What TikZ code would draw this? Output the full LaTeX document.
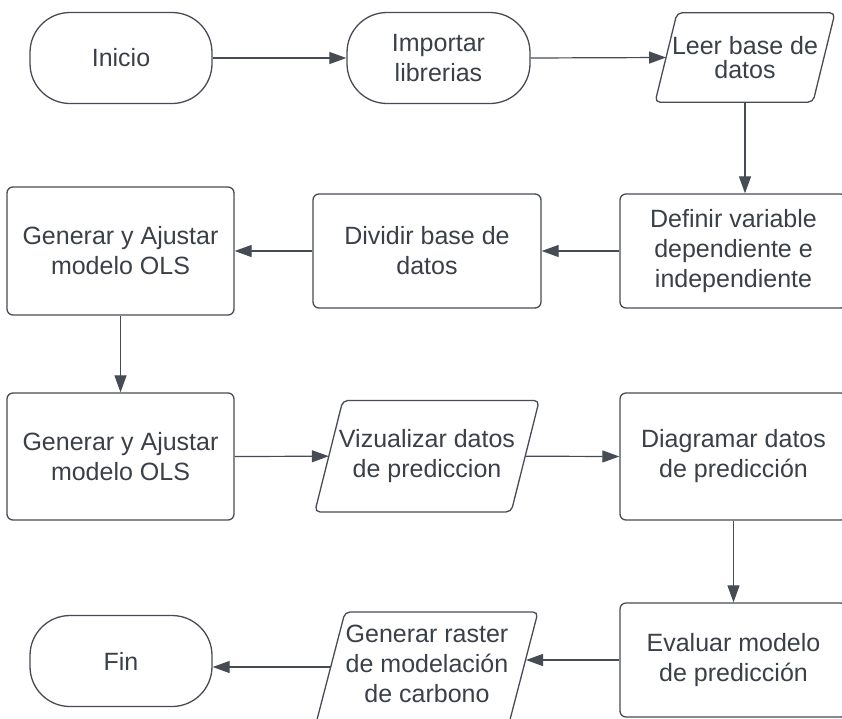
\documentclass[tikz,border=0pt]{standalone}
\usepackage{fontspec}
\setmainfont{Liberation Sans}
\usetikzlibrary{arrows.meta,calc}
\definecolor{txtc}{HTML}{3B4048}
\definecolor{linec}{HTML}{474C54}
\begin{document}
\begin{tikzpicture}[x=1pt,y=-1pt,
  every node/.style={font=\fontsize{25}{30}\selectfont, text=txtc, align=center, inner sep=0pt},
  shapeline/.style={draw=linec, line width=1.3pt},
  procbox/.style={shapeline, rounded corners=6pt, minimum width=227pt},
  termbox/.style={shapeline, rounded corners=40pt, minimum width=182pt, minimum height=91pt},
  iobox/.style={draw=none},
  paraline/.style={shapeline, rounded corners=5pt},
  flow/.style={draw=linec, line width=1.2pt, -{Triangle[length=17pt,width=12pt]}}
]
\fill[white] (0,0) rectangle (842,718);
\useasboundingbox (0,0) rectangle (842,718);

% row 1
\node[termbox] (inicio) at (121,58) {Inicio};
\node[termbox, minimum width=183pt] (imp) at (438.5,58) {Importar\\librerias};
\node[iobox, minimum width=157.5pt, minimum height=89pt,
      font=\fontsize{25}{24}\selectfont] (leer) at (745,57.5) {Leer base de\\datos};
\draw[paraline] ($(leer.north west)+(11pt,0pt)$) -- ($(leer.north east)+(11pt,0pt)$)
   -- ($(leer.south east)+(-11pt,0pt)$) -- ($(leer.south west)+(-11pt,0pt)$) -- cycle;

% row 2
\node[procbox, minimum height=128pt] (gen1) at (120.5,251) {Generar y Ajustar\\modelo OLS};
\node[procbox, minimum width=228pt, minimum height=114pt] (div) at (427,251) {Dividir base de\\datos};
\node[procbox, minimum height=114pt] (def) at (733.5,251) {Definir variable\\dependiente e\\independiente};

% row 3
\node[procbox, minimum height=127pt] (gen2) at (120.5,456.5) {Generar y Ajustar\\modelo OLS};
\node[iobox, minimum width=196pt, minimum height=111pt] (viz) at (427,456.2) {Vizualizar datos\\de prediccion};
\draw[paraline] ($(viz.north west)+(14pt,0pt)$) -- ($(viz.north east)+(14pt,0pt)$)
   -- ($(viz.south east)+(-14pt,0pt)$) -- ($(viz.south west)+(-14pt,0pt)$) -- cycle;
\node[procbox, minimum height=127pt] (diag) at (733.5,456.5) {Diagramar datos\\de predicción};

% row 4
\node[termbox] (fin) at (121,661) {Fin};
\node[iobox] (ras) at (427,664) {Generar raster\\de modelación\\de carbono};
\draw[paraline] (345,612) -- (538,612) -- (504.7,740) -- (311.7,740) -- cycle;
\coordinate (rasR) at (526,660);
\coordinate (rasL) at (330,667);
\node[procbox, minimum height=114pt] (eval) at (733.5,660) {Evaluar modelo\\de predicción};

% connectors
\draw[flow] (inicio.east) -- (imp.west);
\draw[flow] (imp.east) -- (leer.west);
\draw[flow] (leer.south) -- (leer.south |- def.north);
\draw[flow] (def.west) -- (div.east);
\draw[flow] (div.west) -- (gen1.east);
\draw[flow] (gen1.south) -- (gen2.north);
\draw[flow] (gen2.east) -- (viz.west);
\draw[flow] (viz.east) -- (diag.west);
\draw[flow] (diag.south) -- (eval.north);
\draw[flow] (eval.west) -- (rasR);
\draw[flow] (rasL) -- (rasL -| fin.east);
\end{tikzpicture}
\end{document}
